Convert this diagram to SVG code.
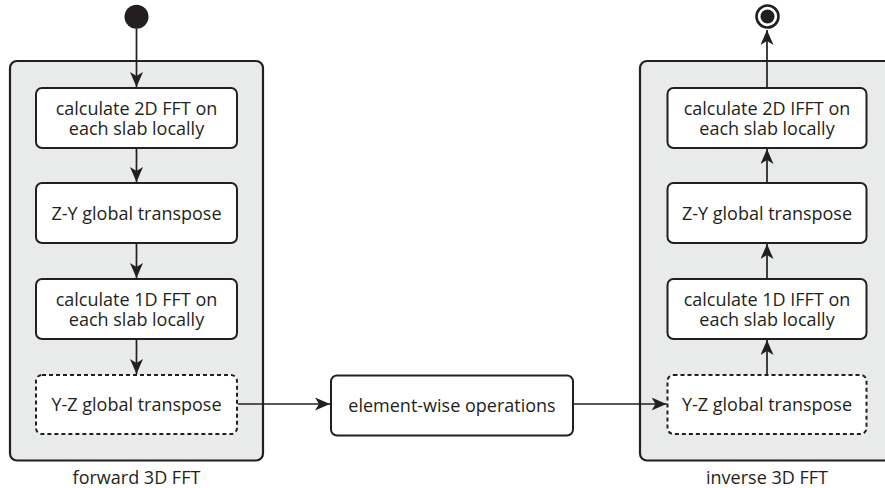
<svg xmlns="http://www.w3.org/2000/svg" width="885" height="488" viewBox="0 0 885 488">
<style>
.cont{fill:#e9eaea;stroke:#231f20;stroke-width:2.2}
.box{fill:#fff;stroke:#231f20;stroke-width:2}
.dash{fill:#fff;stroke:#231f20;stroke-width:2;stroke-dasharray:4 3}
.t{font-family:"Open Sans","Liberation Sans",sans-serif;font-size:18px;fill:#231f20;text-anchor:middle}
.c{stroke:#231f20;stroke-width:1.7;fill:none;marker-end:url(#ah)}
</style>
<defs>
<marker id="ah" markerUnits="userSpaceOnUse" markerWidth="16" markerHeight="14" refX="15" refY="6.5" orient="auto">
<path d="M0,0 L15,6.5 L0,13 L4,6.5 z" fill="#231f20"/>
</marker>
</defs>
<g id="forward">
<rect class="cont" x="10" y="61" width="253" height="399.5" rx="7"/>
<text class="t" x="136.5" y="484">forward 3D FFT</text>
</g>
<g id="inverse">
<rect class="cont" x="640" y="61" width="270" height="399.5" rx="7"/>
<text class="t" x="767" y="484">inverse 3D FFT</text>
</g>
<g id="start"><circle cx="136.5" cy="16.7" r="12" fill="#231f20"/></g>
<g id="end"><circle cx="767.5" cy="16.5" r="11" fill="#fff" stroke="#231f20" stroke-width="2.6"/><circle cx="767.5" cy="16.5" r="7" fill="#231f20"/></g>
<g id="f1"><rect class="box" x="36" y="88" width="201" height="60" rx="6"/><text class="t" x="136.5" y="114.5">calculate 2D FFT on</text><text class="t" x="136.5" y="135">each slab locally</text></g>
<g id="f2"><rect class="box" x="36" y="183" width="201" height="60" rx="6"/><text class="t" x="136.5" y="219.5">Z-Y global transpose</text></g>
<g id="f3"><rect class="box" x="36" y="279" width="201" height="60" rx="6"/><text class="t" x="136.5" y="305.5">calculate 1D FFT on</text><text class="t" x="136.5" y="326">each slab locally</text></g>
<g id="f4"><rect class="dash" x="36" y="375" width="201" height="59" rx="6"/><text class="t" x="136.5" y="410.5">Y-Z global transpose</text></g>
<g id="mid"><rect class="box" x="331" y="375.5" width="242" height="60" rx="6"/><text class="t" x="452" y="412">element-wise operations</text></g>
<g id="i4"><rect class="dash" x="667.5" y="375" width="199" height="59" rx="6"/><text class="t" x="767" y="410.5">Y-Z global transpose</text></g>
<g id="i3"><rect class="box" x="667.5" y="279" width="199" height="60" rx="6"/><text class="t" x="767" y="305.5">calculate 1D IFFT on</text><text class="t" x="767" y="326">each slab locally</text></g>
<g id="i2"><rect class="box" x="667.5" y="183" width="199" height="60" rx="6"/><text class="t" x="767" y="219.5">Z-Y global transpose</text></g>
<g id="i1"><rect class="box" x="667.5" y="88" width="199" height="60" rx="6"/><text class="t" x="767" y="114.5">calculate 2D IFFT on</text><text class="t" x="767" y="135">each slab locally</text></g>
<g id="connectors">
<path class="c" d="M136.5,28.5 V87"/>
<path class="c" d="M136.5,149 V182"/>
<path class="c" d="M136.5,244 V278"/>
<path class="c" d="M136.5,340 V374"/>
<path class="c" d="M238,404 H330"/>
<path class="c" d="M574,404 H666.5"/>
<path class="c" d="M767,374 V340"/>
<path class="c" d="M767,278 V244"/>
<path class="c" d="M767,182 V149"/>
<path class="c" d="M767,87 V30"/>
</g>
</svg>
